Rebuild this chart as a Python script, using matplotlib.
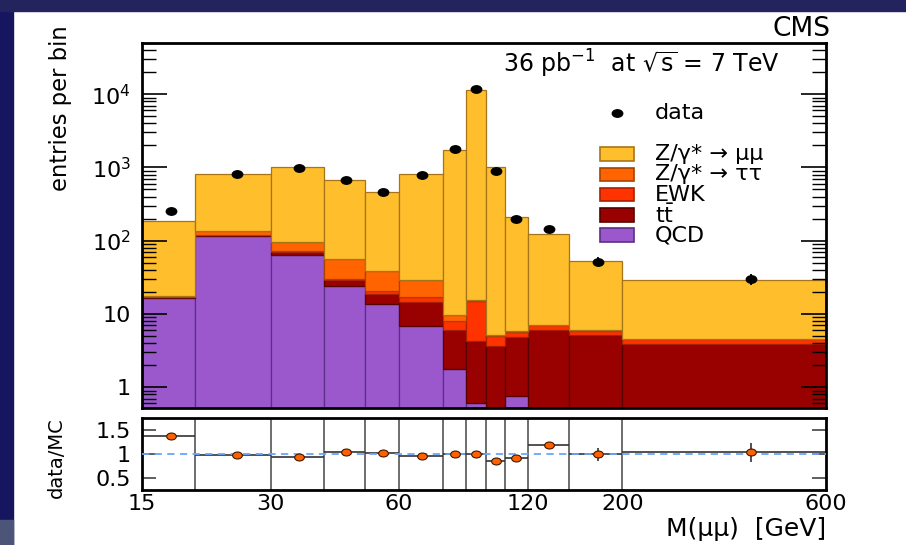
import numpy as np
import matplotlib.pyplot as plt
from matplotlib.patches import Rectangle
from matplotlib.path import Path
from matplotlib.transforms import Affine2D
from matplotlib.ticker import FixedLocator, NullLocator, NullFormatter, LogLocator

plt.rcParams['font.family'] = ['DejaVu Sans']
plt.rcParams['mathtext.default'] = 'regular'

# mass bins in GeV
edges = [15, 20, 30, 40, 50, 60, 76, 86, 96, 106, 120, 150, 200, 600]

# expected entries per bin, one list per process (stacked bottom to top)
qcd = [16.4, 117, 64, 23.7, 13.6, 6.9, 1.76, 0.6, 0, 0.76, 0, 0, 0]
ttbar = [0.6, 1.0, 6.0, 5.5, 5.0, 7.6, 4.3, 3.7, 3.67, 4.06, 6.06, 5.18, 3.87]
ewk = [0.2, 3.0, 2.0, 1.0, 2.1, 2.5, 2.0, 10.8, 1.33, 0.9, 0.97, 0.75, 0.63]
ztautau = [0.3, 13, 24, 26.4, 17.7, 12.5, 1.6, 0.3, 0.1, 0.1, 0.1, 0.1, 0.05]
zmumu = [166, 686, 927, 607, 417, 790, 1735, 11505, 1007, 204, 117, 46, 24.7]

# observed events
data = [254, 810, 970, 680, 465, 795, 1780, 11600, 900, 197, 146, 52, 30]
data_err = [16, 28, 31, 26, 22, 28, 42, 108, 30, 14, 12, 7.2, 5.5]

# data / MC ratio
ratio = [1.37, 0.97, 0.945, 1.035, 1.015, 0.953, 1.0, 1.0, 0.863, 0.925, 1.18, 0.99, 1.035]
ratio_err = [0.07, 0.02, 0.02, 0.03, 0.03, 0.02, 0.02, 0.01, 0.02, 0.04, 0.07, 0.14, 0.2]

procs = [
    (qcd, '#9a58cc', '#5b2f86', 'QCD'),
    (ttbar, '#990000', '#560000', r'$t\bar{t}$'),
    (ewk, '#ff3300', '#a82000', 'EWK'),
    (ztautau, '#ff6400', '#a84200', 'Z/γ* → ττ'),
    (zmumu, '#ffbe2c', '#a8741a', 'Z/γ* → μμ'),
]

W, H = 906, 545
fig = plt.figure(figsize=(W / 100, H / 100), dpi=100)
fig.patch.set_facecolor('white')

# slide background strips
fig.add_artist(Rectangle((0, 0), 13 / W, 1, transform=fig.transFigure,
                         color='#161660', zorder=0))
fig.add_artist(Rectangle((0, 1 - 11 / H), 1, 11 / H, transform=fig.transFigure,
                         color='#23235e', zorder=0))
fig.add_artist(Rectangle((0, 0), 13 / W, 25 / H, transform=fig.transFigure,
                         color='#4c5478', zorder=0))


def px_axes(x0, y0, x1, y1):
    return [x0 / W, 1 - y1 / H, (x1 - x0) / W, (y1 - y0) / H]


ax = fig.add_axes(px_axes(142, 43, 826, 408))
ax2 = fig.add_axes(px_axes(142, 418, 826, 490))

lefts = np.array(edges[:-1], dtype=float)
rights = np.array(edges[1:], dtype=float)
widths = rights - lefts
centers = (lefts + rights) / 2

ell = Path.unit_circle().transformed(Affine2D().scale(1.4, 1.0))

# stacked MC
bottom = np.zeros(len(lefts))
for vals, fc, ec, lab in procs:
    vals = np.array(vals, dtype=float)
    ax.bar(lefts, vals, width=widths, bottom=bottom, align='edge',
           color=fc, edgecolor=ec, linewidth=0.9)
    bottom = bottom + vals

ax.errorbar(centers, data, yerr=data_err, fmt='none', ecolor='black',
            elinewidth=1.3, zorder=5)
ax.plot(centers, data, ls='none', marker=ell, ms=7.5, color='black', zorder=6)

ax.set_xscale('log')
ax.set_yscale('log')
ax.set_xlim(15, 600)
ax.set_ylim(0.52, 5e4)
ax.xaxis.set_major_locator(NullLocator())
ax.xaxis.set_minor_locator(NullLocator())
ax.yaxis.set_major_locator(FixedLocator([1, 10, 100, 1000, 10000]))
ax.set_yticklabels(['1', '10', '$10^{2}$', '$10^{3}$', '$10^{4}$'], fontsize=16)
ax.yaxis.set_minor_locator(LogLocator(base=10, subs=np.arange(2, 10)))
ax.yaxis.set_minor_formatter(NullFormatter())
ax.tick_params(axis='y', which='major', direction='in', length=18, width=1.2,
               left=True, right=True, pad=8)
ax.tick_params(axis='y', which='minor', direction='in', length=10, width=1.0,
               left=True, right=True)
for s in ax.spines.values():
    s.set_linewidth(2)

# legend
def fx(px):
    return (px - 142) / 684


def fy(py):
    return (408 - py) / 365


ax.plot([fx(617)], [fy(113)], transform=ax.transAxes, ls='none', marker=ell,
        ms=7.5, color='black', clip_on=False)
ax.text(fx(655), fy(113), 'data', transform=ax.transAxes, fontsize=16,
        va='center', ha='left')
row_y = [154, 174.3, 194.6, 214.9, 235.2]
for (vals, fc, ec, lab), y in zip(procs[::-1], row_y):
    ax.add_patch(Rectangle((fx(600), fy(y + 6.7)), fx(634) - fx(600), 13.4 / 365,
                           transform=ax.transAxes, facecolor=fc, edgecolor=ec,
                           linewidth=1.2))
    ax.text(fx(655), fy(y), lab, transform=ax.transAxes, fontsize=16,
            va='center', ha='left')

ax.text(fx(641), fy(64), r'36 pb$^{-1}$  at $\sqrt{s}$ = 7 TeV',
        transform=ax.transAxes, fontsize=17, ha='center', va='center')
fig.text(830 / W, 1 - 29 / H, 'CMS', fontsize=19, ha='right', va='center')
fig.text(61 / W, 1 - 108 / H, 'entries per bin', fontsize=16.3, rotation=90,
         ha='center', va='center')

# ratio panel
for e in edges[1:-1]:
    ax2.axvline(e, color='#555555', lw=1.2, zorder=1)
ax2.axhline(1, color='#6aa4ff', lw=1.3, ls=(0, (4, 3)), zorder=3)
ax2.errorbar(centers, ratio, xerr=[centers - lefts, rights - centers],
             yerr=ratio_err, fmt='none', ecolor='#333333', elinewidth=1.2, zorder=2)
ax2.plot(centers, ratio, ls='none', marker=ell, ms=7, mfc='#ff6000',
         mec='#3a1a00', mew=0.8, zorder=4)

ax2.set_xscale('log')
ax2.set_xlim(15, 600)
ax2.set_ylim(0.26, 1.74)
ax2.xaxis.set_major_locator(FixedLocator([15, 30, 60, 120, 200, 600]))
ax2.xaxis.set_minor_locator(NullLocator())
ax2.set_xticklabels(['15', '30', '60', '120', '200', '600'], fontsize=16)
ax2.tick_params(axis='x', length=0, pad=3)
ax2.yaxis.set_major_locator(FixedLocator([0.5, 1, 1.5]))
ax2.set_yticklabels(['0.5', '1', '1.5'], fontsize=16)
ax2.yaxis.set_minor_locator(NullLocator())
ax2.tick_params(axis='y', direction='in', length=10, width=1.2, color='#444444',
                left=True, right=True, pad=8)
for s in ax2.spines.values():
    s.set_linewidth(2)

fig.text(56 / W, 1 - 458 / H, 'data/MC', fontsize=14, rotation=90,
         ha='center', va='center')
fig.text(826 / W, 1 - 529 / H, 'M(μμ)  [GeV]', fontsize=18, ha='right',
         va='center')

fig.savefig('out.png', dpi=100)
